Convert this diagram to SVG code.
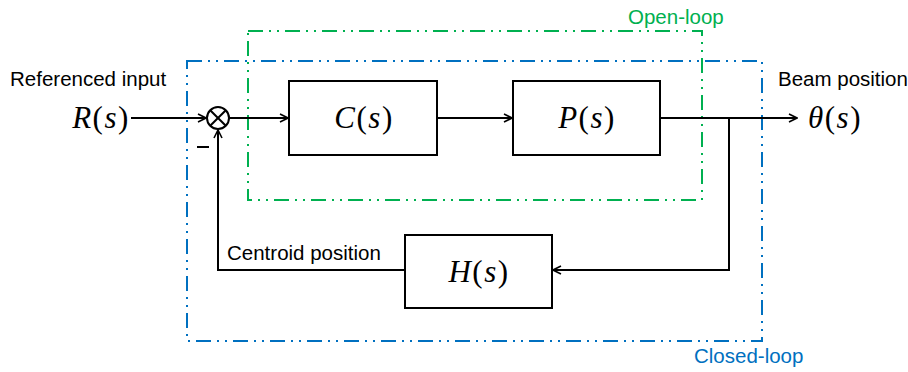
<svg xmlns="http://www.w3.org/2000/svg" width="908" height="372" viewBox="0 0 908 372">
<style>
.blk{fill:#fff;stroke:#000;stroke-width:2}
.ln{fill:none;stroke:#000;stroke-width:2}
.lbl{font-family:"Liberation Sans",Arial,sans-serif;font-size:20.5px;fill:#000}
.math{font-family:"Liberation Serif","Times New Roman",serif;font-size:31px;fill:#000;text-anchor:middle;letter-spacing:1.5px}
.it{font-style:italic}
.green{fill:none;stroke:#00B050;stroke-width:2;stroke-dasharray:15 6 2 6 2 6}
.blue{fill:none;stroke:#0070C0;stroke-width:2;stroke-dasharray:15 6 2 6 2 6}
</style>
<defs>
<marker id="arr" viewBox="0 0 10 10" refX="9" refY="5" markerWidth="10" markerHeight="10" markerUnits="userSpaceOnUse" orient="auto">
<path d="M1,1 L9,5 L1,9" fill="none" stroke="#000" stroke-width="1.6"/>
</marker>
</defs>
<rect width="908" height="372" fill="#fff"/>
<g id="regions">
<rect class="blue" x="187" y="61" width="575" height="280"/>
<rect class="green" x="248" y="31" width="454" height="169"/>
<text x="628" y="24" class="lbl" style="fill:#00B050">Open-loop</text>
<text x="694" y="363" class="lbl" style="fill:#0070C0">Closed-loop</text>
</g>
<g id="connectors">
<line class="ln" x1="131" y1="118" x2="206" y2="118" marker-end="url(#arr)"/>
<line class="ln" x1="229" y1="118" x2="288" y2="118" marker-end="url(#arr)"/>
<line class="ln" x1="437" y1="118" x2="512" y2="118" marker-end="url(#arr)"/>
<line class="ln" x1="660" y1="118" x2="797" y2="118" marker-end="url(#arr)"/>
<polyline class="ln" points="729,118 729,270 553,270" marker-end="url(#arr)"/>
<polyline class="ln" points="405,270 218,270 218,130" marker-end="url(#arr)"/>
</g>
<g id="sum">
<circle cx="218" cy="118" r="11" class="blk"/>
<line class="ln" x1="210.2" y1="110.2" x2="225.8" y2="125.8"/>
<line class="ln" x1="225.8" y1="110.2" x2="210.2" y2="125.8"/>
<line class="ln" x1="197" y1="147" x2="209" y2="147"/>
</g>
<g id="C">
<rect class="blk" x="289" y="81" width="148" height="74"/>
<text x="364" y="128" class="math"><tspan class="it">C</tspan>(<tspan class="it">s</tspan>)</text>
</g>
<g id="P">
<rect class="blk" x="513" y="81" width="147" height="74"/>
<text x="587" y="128" class="math"><tspan class="it">P</tspan>(<tspan class="it">s</tspan>)</text>
</g>
<g id="H">
<rect class="blk" x="405" y="235" width="147" height="73"/>
<text x="479" y="282" class="math"><tspan class="it">H</tspan>(<tspan class="it">s</tspan>)</text>
</g>
<g id="input">
<text x="10" y="86" class="lbl">Referenced input</text>
<text x="101" y="128" class="math"><tspan class="it">R</tspan>(<tspan class="it">s</tspan>)</text>
</g>
<g id="output">
<text x="778" y="86" class="lbl">Beam position</text>
<text x="835" y="128" class="math"><tspan class="it">θ</tspan>(<tspan class="it">s</tspan>)</text>
</g>
<g id="feedback-label">
<text x="227" y="260" class="lbl">Centroid position</text>
</g>
</svg>
